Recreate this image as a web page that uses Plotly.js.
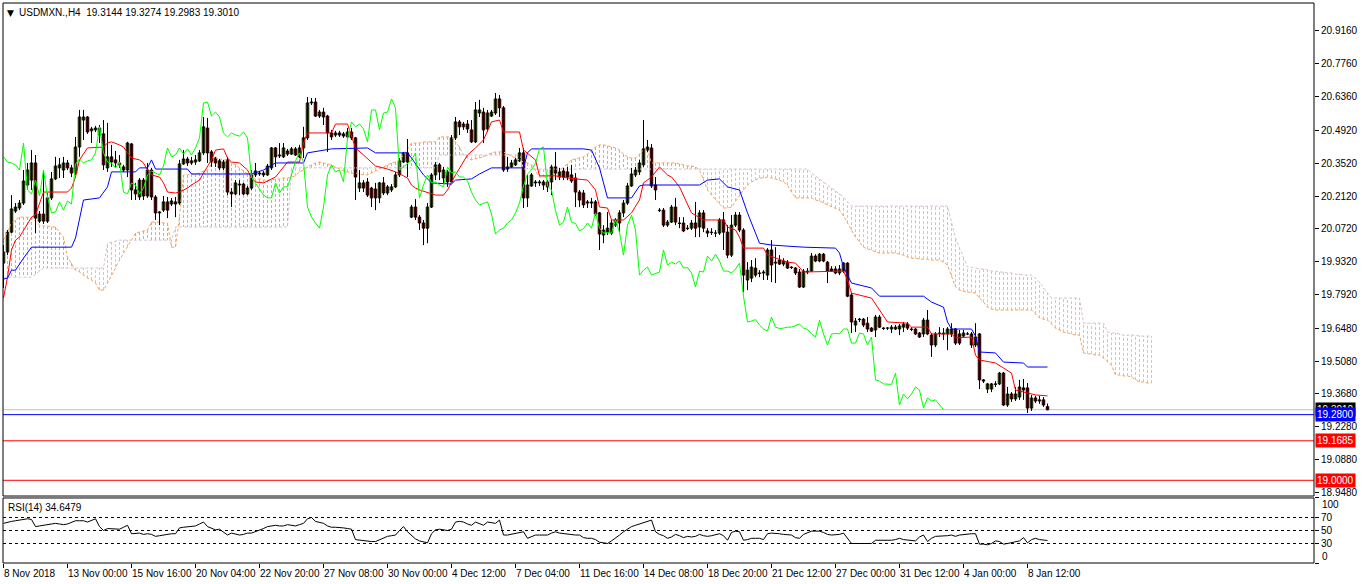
<!DOCTYPE html>
<html><head><meta charset="utf-8">
<script src="https://cdn.plot.ly/plotly-3.0.1.min.js"></script>
<style>html,body{margin:0;padding:0;background:#fff;overflow:hidden}#chart{width:1362px;height:584px}</style>
</head><body><div id="chart"></div>
<script>
const symbolTitle = "USDMXN.,H4";
const rsiLabel = "RSI(14)";
const rsiLast = 34.6479;
const timeLabels = ["8 Nov 2018","13 Nov 00:00","15 Nov 16:00","20 Nov 04:00","22 Nov 20:00","27 Nov 08:00","30 Nov 00:00","4 Dec 12:00","7 Dec 04:00","11 Dec 16:00","14 Dec 08:00","18 Dec 20:00","21 Dec 12:00","27 Dec 00:00","31 Dec 12:00","4 Jan 00:00","8 Jan 12:00"];
const timeLabelBars = [0,16,32,48,64,80,96,112,128,144,160,176,192,208,224,240,256];
const priceTicks = [20.916,20.776,20.636,20.492,20.352,20.212,20.072,19.932,19.792,19.648,19.508,19.368,19.228,19.088,18.948];
const bidPrice = 19.3010;
const blueLevel = 19.2800;
const redLevels = [19.1685, 19.0000];
const rsiLevels = [30, 50, 70];
const chikouShift = 26;

const openP = [
19.926,19.973,20.058,20.148,20.161,20.182,20.259,20.280,20.353,20.105,
20.135,20.105,20.204,20.285,20.332,20.323,20.353,20.332,20.310,20.421,
20.536,20.549,20.490,20.494,20.472,20.477,20.332,20.379,20.366,20.353,
20.336,20.323,20.434,20.238,20.208,20.280,20.212,20.323,20.208,20.140,
20.152,20.187,20.178,20.187,20.182,20.349,20.370,20.353,20.357,20.362,
20.396,20.502,20.400,20.374,20.362,20.332,20.366,20.229,20.221,20.263,
20.263,20.221,20.246,20.302,20.306,20.310,20.302,20.332,20.417,20.383,
20.379,20.404,20.391,20.413,20.379,20.417,20.460,20.609,20.613,20.553,
20.570,20.553,20.481,20.472,20.481,20.477,20.464,20.485,20.460,20.246,
20.268,20.272,20.246,20.242,20.204,20.268,20.225,20.238,20.251,20.302,
20.357,20.396,20.122,20.165,20.122,20.097,20.075,20.165,20.302,20.345,
20.289,20.315,20.272,20.460,20.528,20.507,20.519,20.494,20.443,20.566,
20.570,20.498,20.553,20.566,20.626,20.588,20.327,20.336,20.345,20.362,
20.396,20.204,20.255,20.272,20.268,20.272,20.272,20.272,20.336,20.293,
20.319,20.315,20.302,20.289,20.229,20.225,20.187,20.182,20.187,20.140,
20.046,20.058,20.054,20.088,20.097,20.140,20.182,20.255,20.302,20.315,
20.345,20.408,20.417,20.259,20.152,20.152,20.088,20.101,20.165,20.097,
20.097,20.075,20.075,20.097,20.080,20.140,20.063,20.058,20.054,20.054,
20.110,20.058,19.960,20.088,20.131,20.067,19.854,19.862,19.905,19.884,
19.884,19.875,19.982,19.926,19.939,19.922,19.930,19.909,19.905,19.888,
19.824,19.892,19.892,19.956,19.935,19.964,19.930,19.901,19.901,19.884,
19.892,19.926,19.790,19.662,19.687,19.687,19.670,19.649,19.641,19.696,
19.649,19.649,19.645,19.645,19.645,19.653,19.666,19.645,19.645,19.628,
19.624,19.683,19.619,19.577,19.628,19.628,19.624,19.624,19.645,19.624,
19.615,19.624,19.624,19.577,19.624,19.428,19.389,19.389,19.411,19.411,
19.457,19.321,19.368,19.347,19.355,19.394,19.394,19.308,19.351,19.338,
19.343,19.3144];
const highP = [
20.003,20.067,20.216,20.182,20.195,20.323,20.353,20.408,20.387,20.148,
20.323,20.225,20.315,20.379,20.374,20.379,20.366,20.345,20.464,20.579,
20.579,20.553,20.507,20.511,20.515,20.536,20.524,20.430,20.404,20.387,
20.345,20.443,20.438,20.268,20.289,20.289,20.353,20.332,20.216,20.148,
20.212,20.208,20.204,20.208,20.366,20.408,20.379,20.379,20.387,20.408,
20.549,20.545,20.408,20.379,20.370,20.366,20.379,20.246,20.280,20.280,
20.268,20.255,20.323,20.353,20.319,20.319,20.349,20.421,20.421,20.438,
20.438,20.413,20.421,20.421,20.430,20.507,20.634,20.630,20.630,20.579,
20.588,20.558,20.494,20.490,20.490,20.485,20.502,20.502,20.464,20.323,
20.280,20.289,20.251,20.268,20.272,20.293,20.259,20.263,20.315,20.374,
20.400,20.455,20.174,20.199,20.131,20.110,20.182,20.310,20.357,20.353,
20.336,20.323,20.472,20.549,20.536,20.528,20.536,20.536,20.613,20.622,
20.588,20.579,20.579,20.651,20.643,20.596,20.379,20.366,20.374,20.417,
20.417,20.302,20.310,20.280,20.280,20.280,20.280,20.345,20.400,20.332,
20.332,20.336,20.345,20.310,20.238,20.238,20.195,20.204,20.195,20.144,
20.088,20.144,20.110,20.118,20.152,20.195,20.268,20.332,20.336,20.366,
20.536,20.451,20.434,20.293,20.161,20.161,20.110,20.174,20.204,20.122,
20.122,20.088,20.110,20.187,20.152,20.152,20.075,20.075,20.067,20.118,
20.144,20.088,20.131,20.144,20.144,20.075,19.930,19.939,19.947,19.896,
19.896,19.990,20.024,19.994,19.960,19.947,19.939,19.913,19.909,19.901,
19.901,19.905,19.969,19.964,19.969,19.969,19.935,19.913,19.913,19.918,
19.930,19.930,19.798,19.692,19.692,19.692,19.696,19.653,19.705,19.705,
19.653,19.653,19.662,19.662,19.666,19.675,19.675,19.653,19.649,19.632,
19.692,19.726,19.628,19.632,19.653,19.649,19.653,19.670,19.649,19.641,
19.641,19.632,19.632,19.670,19.628,19.432,19.415,19.415,19.423,19.462,
19.462,19.398,19.376,19.398,19.428,19.432,19.415,19.364,19.360,19.360,
19.355,19.3274];
const lowP = [
19.820,19.960,20.054,20.140,20.152,20.174,20.238,20.238,20.054,20.097,
20.093,20.097,20.195,20.280,20.289,20.289,20.323,20.293,20.302,20.379,
20.451,20.477,20.438,20.485,20.438,20.323,20.315,20.336,20.332,20.332,
20.315,20.293,20.195,20.195,20.195,20.195,20.204,20.195,20.110,20.088,
20.144,20.118,20.169,20.122,20.174,20.345,20.340,20.345,20.345,20.357,
20.387,20.353,20.336,20.336,20.323,20.323,20.216,20.165,20.216,20.216,
20.216,20.216,20.238,20.293,20.298,20.293,20.298,20.323,20.336,20.374,
20.374,20.383,20.387,20.383,20.374,20.374,20.451,20.600,20.549,20.545,
20.515,20.400,20.451,20.464,20.464,20.460,20.455,20.451,20.195,20.229,
20.229,20.208,20.165,20.152,20.182,20.216,20.216,20.229,20.246,20.293,
20.353,20.293,20.118,20.110,20.067,20.003,20.011,20.161,20.280,20.280,
20.268,20.251,20.268,20.451,20.472,20.494,20.481,20.438,20.438,20.549,
20.438,20.485,20.549,20.558,20.549,20.315,20.315,20.332,20.340,20.357,
20.161,20.165,20.251,20.251,20.255,20.238,20.229,20.216,20.280,20.280,
20.280,20.280,20.268,20.165,20.165,20.161,20.161,20.161,20.127,19.982,
20.011,20.046,20.046,20.080,20.058,20.122,20.174,20.251,20.293,20.302,
20.336,20.400,20.246,20.195,20.144,20.080,20.080,20.097,20.088,20.075,
20.058,20.067,20.067,20.037,20.037,20.058,20.037,20.046,20.037,20.046,
19.982,19.947,19.952,20.080,20.058,19.802,19.811,19.845,19.866,19.866,
19.854,19.854,19.845,19.841,19.918,19.913,19.901,19.901,19.875,19.820,
19.820,19.879,19.888,19.930,19.930,19.930,19.841,19.888,19.879,19.875,
19.884,19.781,19.628,19.632,19.675,19.653,19.632,19.632,19.611,19.649,
19.641,19.641,19.628,19.641,19.619,19.632,19.641,19.636,19.619,19.607,
19.611,19.619,19.526,19.568,19.611,19.598,19.555,19.611,19.577,19.577,
19.611,19.619,19.564,19.568,19.389,19.415,19.372,19.376,19.398,19.406,
19.317,19.313,19.334,19.338,19.343,19.343,19.287,19.296,19.330,19.326,
19.313,19.2983];
const closeP = [
19.973,20.058,20.157,20.165,20.182,20.276,20.323,20.353,20.118,20.135,
20.105,20.204,20.285,20.340,20.345,20.353,20.332,20.310,20.421,20.549,
20.549,20.485,20.498,20.502,20.502,20.345,20.379,20.357,20.353,20.345,
20.323,20.438,20.238,20.221,20.280,20.212,20.323,20.208,20.140,20.144,
20.187,20.152,20.191,20.178,20.349,20.370,20.353,20.362,20.366,20.396,
20.507,20.396,20.357,20.353,20.332,20.357,20.229,20.221,20.268,20.259,
20.221,20.246,20.302,20.319,20.310,20.302,20.340,20.417,20.379,20.387,
20.417,20.391,20.413,20.387,20.417,20.460,20.609,20.613,20.553,20.570,
20.549,20.481,20.464,20.481,20.472,20.468,20.485,20.460,20.293,20.268,
20.246,20.216,20.204,20.204,20.268,20.225,20.251,20.251,20.302,20.362,
20.396,20.357,20.165,20.122,20.097,20.075,20.165,20.302,20.345,20.315,
20.323,20.272,20.460,20.528,20.507,20.519,20.498,20.443,20.579,20.579,
20.494,20.566,20.570,20.626,20.588,20.323,20.336,20.353,20.366,20.396,
20.204,20.259,20.302,20.268,20.272,20.259,20.251,20.336,20.310,20.315,
20.293,20.293,20.276,20.229,20.195,20.174,20.182,20.187,20.135,20.050,
20.067,20.075,20.097,20.110,20.140,20.182,20.255,20.306,20.323,20.353,
20.413,20.421,20.255,20.238,20.150,20.088,20.101,20.165,20.101,20.095,
20.063,20.073,20.097,20.075,20.140,20.075,20.054,20.056,20.054,20.110,
20.058,19.960,20.088,20.131,20.067,19.875,19.896,19.909,19.875,19.882,
19.888,19.982,19.918,19.930,19.922,19.935,19.905,19.907,19.884,19.824,
19.892,19.888,19.956,19.935,19.964,19.935,19.892,19.892,19.884,19.901,
19.926,19.785,19.675,19.679,19.685,19.662,19.645,19.636,19.696,19.653,
19.647,19.649,19.653,19.653,19.658,19.666,19.649,19.643,19.624,19.611,
19.683,19.624,19.577,19.624,19.626,19.624,19.645,19.645,19.585,19.585,
19.628,19.624,19.577,19.611,19.428,19.423,19.411,19.411,19.409,19.457,
19.321,19.368,19.347,19.368,19.398,19.385,19.308,19.351,19.338,19.343,
19.321,19.3010];

const tenkanBars = [0,1,2,3,4,5,7,8,9,10,16,17,18,19,21,25,26,27,29,30,31,32,34,35,36,37,39,40,41,43,44,46,47,49,50,51,52,53,55,56,57,59,61,62,63,65,66,68,71,74,75,76,82,83,86,87,88,90,92,93,96,98,100,101,102,103,104,108,110,111,113,116,118,120,122,124,125,129,130,133,134,138,141,146,148,149,151,152,155,157,159,160,162,164,166,167,169,171,172,175,180,181,183,184,185,190,191,196,198,200,210,211,212,217,219,221,226,227,231,232,237,238,242,243,244,248,250,252,253,255,258,261];
const tenkanVals = [19.777,19.866,19.982,20.024,20.037,20.067,20.122,20.131,20.182,20.229,
20.229,20.246,20.293,20.366,20.417,20.421,20.438,20.443,20.430,20.421,
20.396,20.374,20.366,20.353,20.323,20.302,20.293,20.268,20.229,20.225,
20.229,20.246,20.259,20.280,20.310,20.336,20.366,20.408,20.413,20.374,
20.357,20.353,20.323,20.289,20.272,20.268,20.276,20.293,20.357,20.357,
20.438,20.481,20.481,20.519,20.519,20.464,20.417,20.387,20.357,20.340,
20.327,20.315,20.298,20.289,20.259,20.246,20.238,20.216,20.216,20.238,
20.302,20.387,20.417,20.451,20.528,20.536,20.485,20.485,20.408,20.366,
20.298,20.298,20.289,20.280,20.238,20.165,20.161,20.110,20.110,20.140,
20.195,20.268,20.293,20.336,20.302,20.293,20.251,20.174,20.140,20.110,
20.110,20.080,20.067,20.037,19.990,19.990,19.960,19.930,19.926,19.888,
19.892,19.854,19.798,19.777,19.726,19.675,19.670,19.653,19.653,19.624,
19.624,19.607,19.611,19.534,19.513,19.500,19.479,19.457,19.385,19.376,
19.364,19.360];

const kijunBars = [0,1,2,3,5,7,17,18,20,24,26,27,33,34,36,37,38,46,47,62,65,68,75,76,82,91,93,101,102,105,107,112,113,117,119,122,130,131,132,145,147,149,151,157,159,160,174,176,179,181,183,184,186,189,192,200,208,209,210,212,217,219,230,232,235,236,237,242,243,244,248,250,255,256,261];
const kijunVals = [19.858,19.862,19.896,19.896,19.947,19.994,19.994,20.033,20.195,20.204,
20.251,20.315,20.315,20.332,20.332,20.366,20.327,20.327,20.306,20.306,
20.323,20.353,20.353,20.396,20.413,20.417,20.396,20.396,20.374,20.302,
20.268,20.263,20.280,20.285,20.306,20.332,20.332,20.396,20.413,20.413,
20.408,20.332,20.204,20.204,20.255,20.259,20.259,20.280,20.285,20.251,
20.242,20.238,20.140,20.011,20.003,19.994,19.990,19.969,19.909,19.841,
19.820,19.785,19.785,19.760,19.738,19.675,19.645,19.645,19.615,19.547,
19.543,19.504,19.500,19.483,19.483];

const spanA = [
20.024,20.063,20.097,20.110,20.122,20.122,20.122,20.122,20.105,20.088,
20.084,20.084,20.080,20.080,20.058,20.037,19.952,19.926,19.896,19.888,
19.875,19.862,19.854,19.841,19.811,19.811,19.841,19.875,19.909,19.939,
19.969,19.994,20.024,20.054,20.058,20.063,20.067,20.101,20.101,20.101,
20.097,20.097,19.994,19.994,20.122,20.302,20.302,20.306,20.306,20.310,
20.319,20.323,20.349,20.374,20.370,20.366,20.366,20.353,20.345,20.332,
20.323,20.306,20.289,20.285,20.285,20.280,20.280,20.280,20.285,20.285,
20.289,20.289,20.293,20.298,20.315,20.323,20.336,20.345,20.353,20.357,
20.353,20.349,20.345,20.336,20.327,20.319,20.315,20.310,20.310,20.306,
20.302,20.302,20.310,20.319,20.327,20.336,20.345,20.353,20.357,20.366,
20.387,20.413,20.438,20.438,20.438,20.443,20.443,20.443,20.443,20.464,
20.464,20.464,20.464,20.443,20.421,20.387,20.374,20.366,20.370,20.374,
20.379,20.387,20.396,20.400,20.400,20.400,20.391,20.383,20.374,20.366,
20.357,20.353,20.345,20.319,20.293,20.293,20.293,20.293,20.306,20.319,
20.332,20.349,20.366,20.370,20.374,20.379,20.391,20.408,20.421,20.430,
20.430,20.426,20.421,20.417,20.408,20.391,20.379,20.374,20.374,20.391,
20.408,20.408,20.353,20.353,20.353,20.353,20.353,20.353,20.353,20.349,
20.345,20.340,20.340,20.336,20.323,20.280,20.238,20.216,20.195,20.178,
20.161,20.161,20.165,20.191,20.216,20.238,20.259,20.272,20.280,20.289,
20.289,20.293,20.289,20.285,20.280,20.272,20.259,20.229,20.204,20.204,
20.204,20.204,20.204,20.195,20.191,20.182,20.174,20.169,20.161,20.152,
20.127,20.097,20.067,20.037,20.016,19.994,19.986,19.982,19.973,19.969,
19.969,19.969,19.969,19.969,19.964,19.960,19.952,19.947,19.947,19.943,
19.943,19.943,19.939,19.939,19.939,19.930,19.918,19.871,19.824,19.811,
19.807,19.802,19.802,19.798,19.777,19.760,19.738,19.730,19.726,19.726,
19.726,19.726,19.726,19.726,19.726,19.726,19.726,19.726,19.709,19.692,
19.687,19.683,19.666,19.649,19.641,19.632,19.628,19.624,19.619,19.619,
19.543,19.539,19.539,19.534,19.534,19.521,19.504,19.491,19.449,19.449,
19.445,19.445,19.440,19.428,19.419,19.419,19.415,19.415];
const spanB = [
19.866,19.866,19.866,19.866,19.866,19.866,19.866,19.866,19.879,19.892,
19.905,19.905,19.905,19.905,19.905,19.905,19.905,19.905,19.905,19.905,
19.905,19.905,19.905,19.905,19.905,19.905,20.011,20.016,20.020,20.024,
20.024,20.024,20.024,20.024,20.024,20.024,20.024,20.024,20.024,20.024,
20.024,20.024,20.024,20.080,20.080,20.080,20.080,20.080,20.080,20.080,
20.080,20.080,20.080,20.080,20.080,20.080,20.080,20.080,20.080,20.080,
20.080,20.080,20.080,20.080,20.080,20.080,20.080,20.080,20.080,20.080,
20.080,20.080,20.332,20.332,20.332,20.332,20.332,20.332,20.332,20.332,
20.332,20.332,20.332,20.332,20.332,20.332,20.332,20.332,20.332,20.332,
20.332,20.332,20.332,20.332,20.332,20.332,20.332,20.332,20.332,20.332,
20.332,20.332,20.332,20.332,20.332,20.332,20.332,20.332,20.332,20.387,
20.387,20.387,20.387,20.387,20.387,20.387,20.387,20.387,20.387,20.387,
20.387,20.387,20.387,20.387,20.387,20.387,20.387,20.387,20.387,20.387,
20.327,20.327,20.327,20.327,20.327,20.327,20.327,20.327,20.327,20.327,
20.327,20.327,20.327,20.327,20.327,20.327,20.327,20.327,20.327,20.327,
20.327,20.327,20.327,20.327,20.327,20.327,20.327,20.327,20.327,20.327,
20.327,20.327,20.327,20.327,20.327,20.327,20.327,20.327,20.327,20.327,
20.327,20.327,20.327,20.327,20.327,20.327,20.327,20.327,20.327,20.327,
20.327,20.327,20.327,20.327,20.327,20.327,20.327,20.327,20.327,20.327,
20.327,20.327,20.327,20.327,20.327,20.327,20.327,20.327,20.327,20.327,
20.327,20.327,20.310,20.298,20.285,20.272,20.259,20.246,20.234,20.221,
20.208,20.187,20.169,20.169,20.169,20.169,20.169,20.169,20.169,20.169,
20.169,20.169,20.169,20.169,20.169,20.169,20.169,20.169,20.169,20.169,
20.169,20.169,20.169,20.169,20.169,20.169,20.169,20.101,20.033,19.990,
19.947,19.909,19.909,19.905,19.901,19.901,19.896,19.892,19.892,19.888,
19.888,19.884,19.884,19.879,19.879,19.875,19.875,19.875,19.862,19.845,
19.820,19.798,19.777,19.777,19.777,19.777,19.777,19.777,19.777,19.777,
19.670,19.670,19.670,19.670,19.670,19.670,19.632,19.628,19.628,19.624,
19.619,19.619,19.619,19.619,19.615,19.615,19.615,19.615];

const rsiVals = [
61,63,64,65,66,67,68,67,56,57,
58,60,60,61,60,59,60,62,65,65,
65,63,66,68,56,50,53,53,53,52,
55,58,45,46,46,44,45,44,41,42,
43,45,45,45,54,55,56,56,57,60,
63,56,53,51,52,48,43,46,45,43,
44,46,46,48,50,53,56,57,58,57,
57,59,58,57,59,61,68,70,64,62,
61,57,55,55,55,54,53,52,36,35,
34,34,33,33,36,39,41,42,43,50,
56,48,43,37,34,32,31,45,51,52,
51,50,52,63,64,63,60,58,63,60,
58,63,62,61,66,43,43,44,45,46,
48,38,41,43,43,43,43,46,48,46,
45,44,44,43,43,39,38,38,36,32,
31,30,34,38,43,48,52,56,58,60,
61,64,66,48,44,42,38,40,44,42,
39,41,40,41,44,42,41,42,43,45,
42,35,47,49,48,35,36,38,38,38,
36,45,46,46,45,44,44,43,39,38,
44,46,49,49,49,47,44,43,43,44,
46,38,30,30,30,30,29,30,35,35,
34,34,35,36,38,36,35,34,34,40,
43,33,38,41,41,41,42,43,41,43,
44,44,45,45,29,29,28,30,34,33,
29,30,31,33,34,39,31,36,38,36,
35,34.6479];

// ---------- build traces ----------
const FONT = "Liberation Sans, Arial, sans-serif";
const n = closeP.length;
const barIdx = closeP.map((_, i) => i);
const cloudIdx = spanA.map((_, i) => i);

const hatch = {o: {x: [], y: []}, t: {x: [], y: []}};
for (let i = 0; i < spanA.length; i++) {
  const k = spanA[i] >= spanB[i] ? 'o' : 't';
  hatch[k].x.push(i, i, null);
  hatch[k].y.push(spanA[i], spanB[i], null);
}
const SANDY = '#F4A460', THISTLE = '#D8BFD8';

// candles: wicks + bodies from OHLC arrays
const wickX = [], wickY = [];
const bull = {x: [], base: [], len: []}, bear = {x: [], base: [], len: []};
for (let i = 0; i < n; i++) {
  wickX.push(i, i, null);
  wickY.push(lowP[i], highP[i], null);
  const g = closeP[i] >= openP[i] ? bull : bear;
  g.x.push(i);
  g.base.push(Math.min(openP[i], closeP[i]));
  g.len.push(Math.abs(closeP[i] - openP[i]));
}

const traces = [
  {type: 'scatter', mode: 'lines', x: hatch.o.x, y: hatch.o.y, line: {color: SANDY, width: 1, dash: '3px,2px'}, hoverinfo: 'skip'},
  {type: 'scatter', mode: 'lines', x: hatch.t.x, y: hatch.t.y, line: {color: THISTLE, width: 1, dash: '3px,2px'}, hoverinfo: 'skip'},
  {type: 'scatter', mode: 'lines', x: cloudIdx, y: spanA, line: {color: SANDY, width: 1, dash: '3px,2px'}},
  {type: 'scatter', mode: 'lines', x: cloudIdx, y: spanB, line: {color: THISTLE, width: 1, dash: '3px,2px'}},
  {type: 'scatter', mode: 'lines', x: wickX, y: wickY, line: {color: '#000000', width: 1}},
  {type: 'bar', x: bull.x, y: bull.len, base: bull.base, width: 0.62, marker: {color: '#9ACD32', line: {color: '#000000', width: 1}}},
  {type: 'bar', x: bear.x, y: bear.len, base: bear.base, width: 0.62, marker: {color: '#FF0000', line: {color: '#000000', width: 1}}},
  {type: 'scatter', mode: 'lines', x: tenkanBars, y: tenkanVals, line: {color: '#FF0000', width: 1}},
  {type: 'scatter', mode: 'lines', x: kijunBars, y: kijunVals, line: {color: '#0000FF', width: 1}},
  {type: 'scatter', mode: 'lines', x: barIdx.slice(chikouShift).map(i => i - chikouShift), y: closeP.slice(chikouShift), line: {color: '#00FF00', width: 1}},
  {type: 'scatter', mode: 'lines', x: barIdx, y: rsiVals, yaxis: 'y2', line: {color: '#000000', width: 1}}
];

const mainBottom = 0.1196, rsiTop = 0.1161;
const shapes = [];
shapes.push({type: 'line', xref: 'paper', x0: 0, x1: 1, yref: 'y', y0: bidPrice, y1: bidPrice, line: {color: '#C0C0C0', width: 1}, layer: 'below'});
shapes.push({type: 'line', xref: 'paper', x0: 0, x1: 1, yref: 'y', y0: blueLevel, y1: blueLevel, line: {color: '#0000FF', width: 1}, layer: 'below'});
redLevels.forEach(v => shapes.push({type: 'line', xref: 'paper', x0: 0, x1: 1, yref: 'y', y0: v, y1: v, line: {color: '#FF0000', width: 1}, layer: 'below'}));
rsiLevels.forEach(v => shapes.push({type: 'line', xref: 'paper', x0: 0, x1: 1, yref: 'y2', y0: v, y1: v, line: {color: '#000000', width: 1, dash: '3px,3px'}, layer: 'below'}));
shapes.push({type: 'rect', xref: 'paper', yref: 'paper', x0: 0, x1: 1, y0: mainBottom, y1: 1, line: {color: '#000000', width: 1}, fillcolor: 'rgba(0,0,0,0)'});
shapes.push({type: 'rect', xref: 'paper', yref: 'paper', x0: 0, x1: 1, y0: 0, y1: rsiTop, line: {color: '#000000', width: 1}, fillcolor: 'rgba(0,0,0,0)'});

const annotations = [];
const last = n - 1;
annotations.push({xref: 'paper', yref: 'paper', x: 0, y: 1, xanchor: 'left', yanchor: 'top', xshift: 2, yshift: -3, showarrow: false, text: '▼', font: {family: 'DejaVu Sans', size: 9, color: '#000'}});
annotations.push({xref: 'paper', yref: 'paper', x: 0, y: 1, xanchor: 'left', yanchor: 'top', xshift: 14, yshift: -2, showarrow: false,
  text: symbolTitle + '&nbsp;&nbsp;' + [openP[last], highP[last], lowP[last], closeP[last]].map(v => v.toFixed(4)).join(' '), font: {family: FONT, size: 10, color: '#000'}});
annotations.push({xref: 'paper', yref: 'paper', x: 0, y: rsiTop, xanchor: 'left', yanchor: 'top', xshift: 3, yshift: -2, showarrow: false,
  text: rsiLabel + ' ' + rsiLast.toFixed(4), font: {family: FONT, size: 10, color: '#000'}});
timeLabels.forEach((t, k) => annotations.push({xref: 'x', yref: 'paper', x: timeLabelBars[k], y: 0, xanchor: 'left', yanchor: 'top', xshift: -2, yshift: -3, showarrow: false, text: t, font: {family: FONT, size: 10, color: '#000'}}));
function priceBox(v, bg) {
  annotations.push({xref: 'paper', yref: 'y', x: 1, y: v, xanchor: 'left', yanchor: 'middle', xshift: 1, showarrow: false, text: v.toFixed(4), bgcolor: bg, borderpad: 1, font: {family: FONT, size: 10, color: '#FFFFFF'}});
}
priceBox(bidPrice, '#000000');
priceBox(blueLevel, '#0000FF');
redLevels.forEach(v => priceBox(v, '#FF0000'));
annotations.push({xref: 'paper', yref: 'y2', x: 1, y: 100, xanchor: 'left', yanchor: 'top', xshift: 6, yshift: 1, showarrow: false, text: '100', font: {family: FONT, size: 10, color: '#000'}});
annotations.push({xref: 'paper', yref: 'y2', x: 1, y: 0, xanchor: 'left', yanchor: 'bottom', xshift: 6, yshift: -1, showarrow: false, text: '0', font: {family: FONT, size: 10, color: '#000'}});

const layout = {
  width: 1362, height: 584,
  margin: {l: 3, r: 48, t: 3, b: 21, pad: 0},
  paper_bgcolor: '#FFFFFF', plot_bgcolor: '#FFFFFF',
  showlegend: false, barmode: 'overlay',
  font: {family: FONT, size: 10, color: '#000'},
  xaxis: {range: [-0.125, 327.625], anchor: 'y2', showgrid: false, zeroline: false, showline: false,
    tickvals: timeLabelBars, showticklabels: false, ticks: 'outside', ticklen: 4, tickcolor: '#000', tickwidth: 1,
    fixedrange: true},
  yaxis: {domain: [mainBottom, 1], range: [18.933, 21.035], side: 'right', showgrid: false, zeroline: false, showline: false,
    tickvals: priceTicks, ticktext: priceTicks.map(v => v.toFixed(4)), ticks: 'outside', ticklen: 4, tickcolor: '#000',
    tickfont: {family: FONT, size: 10, color: '#000'}, fixedrange: true},
  yaxis2: {domain: [0, rsiTop], range: [0, 100], side: 'right', showgrid: false, zeroline: false, showline: false,
    tickvals: [0, 30, 50, 70, 100], ticktext: ['', '30', '50', '70', ''], ticks: 'outside', ticklen: 4, tickcolor: '#000',
    tickfont: {family: FONT, size: 10, color: '#000'}, fixedrange: true},
  shapes: shapes,
  annotations: annotations
};
Plotly.newPlot('chart', traces, layout, {staticPlot: true, displayModeBar: false});
</script>
</body></html>
